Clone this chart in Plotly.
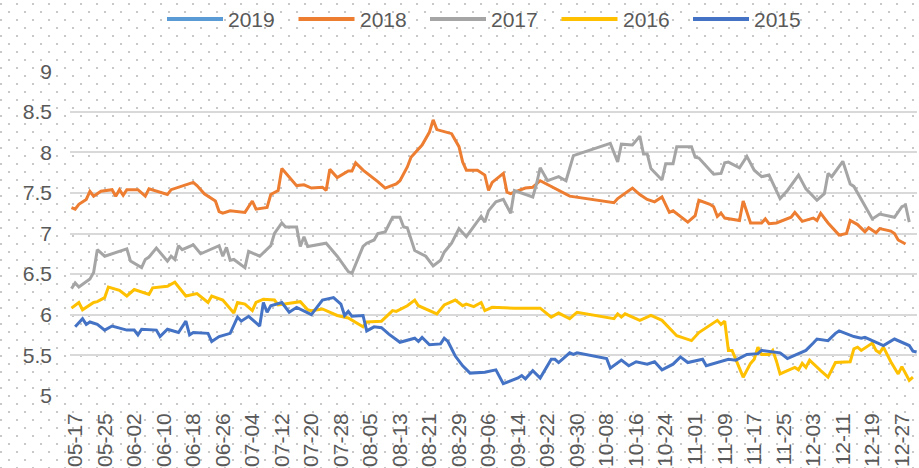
import base64
import struct
import zlib
from datetime import date

import plotly.graph_objects as go

# ---------------- data ----------------
SERIES_NAMES = ["2019", "2018", "2017", "2016", "2015"]
SERIES_COLORS = ["#5B9BD5", "#ED7D31", "#A5A5A5", "#FFC000", "#4472C4"]

TICK_LABELS = ["05-17", "05-25", "06-02", "06-10", "06-18", "06-26", "07-04", "07-12",
               "07-20", "07-28", "08-05", "08-13", "08-21", "08-29", "09-06", "09-14",
               "09-22", "09-30", "10-08", "10-16", "10-24", "11-01", "11-09", "11-17",
               "11-25", "12-03", "12-11", "12-19", "12-27"]

DATES_2019 = []
VALUES_2019 = []

DATES_2018 = [
    "05-16", "05-17", "05-18", "05-20", "05-21", "05-22", "05-24", "05-27", "05-28", "05-29",
    "05-30", "05-31", "06-03", "06-05", "06-06", "06-11", "06-12", "06-18", "06-19", "06-21",
    "06-24", "06-25", "06-26", "06-28", "07-02", "07-04", "07-05", "07-08", "07-09", "07-11",
    "07-12", "07-16", "07-18", "07-20", "07-23", "07-24", "07-25", "07-27", "07-30", "07-31",
    "08-01", "08-03", "08-07", "08-09", "08-12", "08-13", "08-15", "08-16", "08-19", "08-21",
    "08-22", "08-23", "08-27", "08-29", "08-30", "08-31", "09-03", "09-05", "09-06", "09-07",
    "09-10", "09-11", "09-12", "09-13", "09-16", "09-18", "09-20", "09-24", "09-28", "10-10",
    "10-11", "10-15", "10-17", "10-19", "10-21", "10-23", "10-25", "10-26", "10-30", "11-01",
    "11-02", "11-05", "11-06", "11-07", "11-08", "11-09", "11-13", "11-14", "11-16", "11-19",
    "11-20", "11-21", "11-23", "11-27", "11-28", "11-30", "12-03", "12-04", "12-05", "12-07",
    "12-10", "12-12", "12-13", "12-15", "12-17", "12-18", "12-20", "12-21", "12-24", "12-25",
    "12-26", "12-28"]
VALUES_2018 = [
    7.32, 7.30, 7.36, 7.42, 7.52, 7.46, 7.52, 7.54, 7.46, 7.54,
    7.47, 7.54, 7.54, 7.46, 7.55, 7.48, 7.54, 7.63, 7.59, 7.49,
    7.40, 7.27, 7.25, 7.28, 7.26, 7.40, 7.30, 7.32, 7.48, 7.53,
    7.80, 7.59, 7.60, 7.56, 7.57, 7.53, 7.79, 7.69, 7.77, 7.77,
    7.87, 7.78, 7.64, 7.56, 7.61, 7.65, 7.82, 7.94, 8.09, 8.25,
    8.40, 8.28, 8.23, 8.07, 7.88, 7.78, 7.78, 7.72, 7.53, 7.63,
    7.74, 7.51, 7.49, 7.51, 7.56, 7.57, 7.65, 7.56, 7.46, 7.38,
    7.43, 7.56, 7.48, 7.42, 7.39, 7.45, 7.26, 7.28, 7.14, 7.22,
    7.41, 7.36, 7.33, 7.21, 7.25, 7.19, 7.16, 7.40, 7.13, 7.13,
    7.18, 7.12, 7.13, 7.20, 7.26, 7.15, 7.19, 7.16, 7.25, 7.13,
    6.98, 7.00, 7.16, 7.11, 7.02, 7.07, 7.01, 7.06, 7.03, 7.00,
    6.92, 6.87]

DATES_2017 = [
    "05-16", "05-17", "05-18", "05-21", "05-22", "05-23", "05-25", "05-31", "06-01", "06-04",
    "06-05", "06-06", "06-08", "06-11", "06-12", "06-13", "06-14", "06-15", "06-18", "06-20",
    "06-25", "06-26", "06-27", "06-28", "06-29", "07-02", "07-03", "07-06", "07-09", "07-10",
    "07-12", "07-13", "07-16", "07-17", "07-18", "07-19", "07-24", "07-25", "07-27", "07-30",
    "07-31", "08-03", "08-04", "08-06", "08-07", "08-09", "08-11", "08-13", "08-14", "08-15",
    "08-17", "08-20", "08-22", "08-24", "08-25", "08-27", "08-29", "08-31", "09-04", "09-05",
    "09-06", "09-08", "09-10", "09-12", "09-13", "09-18", "09-19", "09-20", "09-22", "09-25",
    "09-27", "09-29", "10-09", "10-11", "10-12", "10-15", "10-17", "10-18", "10-19", "10-20",
    "10-23", "10-24", "10-26", "10-27", "10-31", "11-01", "11-02", "11-06", "11-08", "11-09",
    "11-10", "11-13", "11-15", "11-17", "11-19", "11-21", "11-22", "11-24", "11-26", "11-29",
    "12-01", "12-04", "12-06", "12-07", "12-08", "12-11", "12-13", "12-14", "12-19", "12-21",
    "12-25", "12-27", "12-28", "12-29"]
VALUES_2017 = [
    6.32, 6.39, 6.34, 6.44, 6.52, 6.80, 6.72, 6.81, 6.66, 6.58,
    6.68, 6.71, 6.82, 6.66, 6.72, 6.68, 6.85, 6.80, 6.86, 6.75,
    6.85, 6.72, 6.83, 6.67, 6.68, 6.58, 6.78, 6.72, 6.85, 7.00,
    7.13, 7.08, 7.08, 6.84, 6.96, 6.84, 6.88, 6.83, 6.72, 6.53,
    6.51, 6.84, 6.88, 6.92, 7.00, 7.02, 7.20, 7.20, 7.08, 7.07,
    6.79, 6.72, 6.60, 6.67, 6.77, 6.88, 7.06, 6.96, 7.21, 7.14,
    7.28, 7.39, 7.42, 7.25, 7.53, 7.45, 7.61, 7.81, 7.65, 7.70,
    7.65, 7.96, 8.11, 7.88, 8.10, 8.09, 8.20, 7.98, 7.98, 7.80,
    7.66, 7.86, 7.86, 8.07, 8.07, 7.94, 7.93, 7.73, 7.74, 7.87,
    7.88, 7.81, 7.95, 7.78, 7.70, 7.72, 7.63, 7.43, 7.53, 7.72,
    7.55, 7.41, 7.49, 7.74, 7.70, 7.89, 7.61, 7.58, 7.18, 7.24,
    7.20, 7.33, 7.35, 7.14]

DATES_2016 = [
    "05-16", "05-18", "05-19", "05-22", "05-23", "05-25", "05-26", "05-29", "05-31", "06-02",
    "06-06", "06-07", "06-11", "06-13", "06-16", "06-19", "06-22", "06-23", "06-26", "06-29",
    "06-30", "07-02", "07-04", "07-05", "07-07", "07-10", "07-11", "07-14", "07-17", "07-19",
    "07-20", "07-23", "07-27", "07-30", "08-03", "08-04", "08-08", "08-11", "08-12", "08-15",
    "08-17", "08-18", "08-23", "08-25", "08-28", "08-30", "08-31", "09-02", "09-04", "09-05",
    "09-07", "09-13", "09-20", "09-23", "09-25", "09-28", "09-30", "10-10", "10-11", "10-12",
    "10-13", "10-17", "10-20", "10-23", "10-27", "10-31", "11-02", "11-07", "11-08", "11-09",
    "11-10", "11-11", "11-14", "11-16", "11-17", "11-18", "11-19", "11-21", "11-22", "11-23",
    "11-24", "11-26", "11-28", "11-29", "11-30", "12-01", "12-02", "12-05", "12-07", "12-09",
    "12-13", "12-14", "12-15", "12-16", "12-19", "12-20", "12-21", "12-22", "12-24", "12-26",
    "12-27", "12-29", "12-30"]
VALUES_2016 = [
    6.08, 6.15, 6.06, 6.15, 6.16, 6.21, 6.34, 6.30, 6.23, 6.31,
    6.25, 6.33, 6.35, 6.40, 6.23, 6.26, 6.15, 6.23, 6.18, 6.02,
    6.15, 6.13, 6.05, 6.15, 6.19, 6.18, 6.12, 6.14, 6.16, 6.06,
    6.05, 6.07, 5.99, 5.96, 5.85, 5.91, 5.92, 6.05, 6.04, 6.11,
    6.18, 6.11, 6.01, 6.12, 6.18, 6.11, 6.13, 6.10, 6.15, 6.05,
    6.09, 6.08, 6.08, 5.97, 6.02, 5.95, 6.03, 5.95, 6.01, 5.97,
    6.01, 5.93, 5.99, 5.93, 5.74, 5.68, 5.78, 5.93, 5.88, 5.92,
    5.56, 5.56, 5.23, 5.40, 5.45, 5.60, 5.51, 5.51, 5.56, 5.43,
    5.27, 5.31, 5.35, 5.32, 5.40, 5.35, 5.44, 5.31, 5.23, 5.41,
    5.42, 5.58, 5.60, 5.56, 5.65, 5.56, 5.53, 5.60, 5.42, 5.27,
    5.36, 5.19, 5.23]

DATES_2015 = [
    "05-17", "05-19", "05-20", "05-21", "05-23", "05-25", "05-27", "05-31", "06-02", "06-03",
    "06-04", "06-08", "06-09", "06-11", "06-14", "06-16", "06-17", "06-18", "06-22", "06-23",
    "06-25", "06-28", "06-30", "07-01", "07-03", "07-06", "07-07", "07-08", "07-09", "07-12",
    "07-14", "07-16", "07-20", "07-23", "07-26", "07-28", "07-29", "07-30", "07-31", "08-03",
    "08-04", "08-06", "08-08", "08-10", "08-13", "08-17", "08-18", "08-19", "08-21", "08-24",
    "08-25", "08-26", "08-27", "08-28", "08-30", "09-01", "09-05", "09-08", "09-10", "09-14",
    "09-15", "09-16", "09-18", "09-20", "09-23", "09-24", "09-25", "09-28", "09-29", "09-30",
    "10-08", "10-09", "10-12", "10-14", "10-16", "10-19", "10-21", "10-23", "10-26", "10-28",
    "10-30", "11-03", "11-04", "11-10", "11-12", "11-15", "11-18", "11-19", "11-24", "11-26",
    "11-27", "12-01", "12-03", "12-04", "12-07", "12-09", "12-10", "12-14", "12-16", "12-17",
    "12-22", "12-25", "12-29", "12-30", "12-31"]
VALUES_2015 = [
    5.85, 5.95, 5.88, 5.91, 5.88, 5.81, 5.86, 5.81, 5.81, 5.75,
    5.82, 5.81, 5.73, 5.82, 5.78, 5.92, 5.75, 5.78, 5.77, 5.67,
    5.73, 5.77, 5.97, 5.92, 5.98, 5.86, 6.15, 6.03, 6.11, 6.15,
    6.03, 6.09, 6.00, 6.18, 6.21, 6.13, 5.99, 6.04, 5.98, 5.99,
    5.80, 5.85, 5.84, 5.76, 5.66, 5.71, 5.67, 5.72, 5.63, 5.64,
    5.71, 5.67, 5.58, 5.49, 5.37, 5.28, 5.29, 5.32, 5.15, 5.22,
    5.25, 5.21, 5.31, 5.22, 5.45, 5.45, 5.41, 5.53, 5.51, 5.53,
    5.46, 5.34, 5.44, 5.37, 5.42, 5.39, 5.42, 5.32, 5.39, 5.48,
    5.41, 5.45, 5.37, 5.45, 5.44, 5.51, 5.52, 5.56, 5.53, 5.46,
    5.48, 5.56, 5.65, 5.70, 5.68, 5.77, 5.80, 5.73, 5.71, 5.72,
    5.62, 5.70, 5.62, 5.55, 5.54]

SERIES_DATES = [DATES_2019, DATES_2018, DATES_2017, DATES_2016, DATES_2015]
SERIES_VALUES = [VALUES_2019, VALUES_2018, VALUES_2017, VALUES_2016, VALUES_2015]

# ---------------- layout constants ----------------
W, H = 919, 468
ML, MR, MT, MB = 70, 2, 71, 72
PW, PH = W - ML - MR, H - MT - MB
FONT = "Liberation Sans"
TEXT_COLOR = "#595959"


def day_index(md):
    m, d = (int(p) for p in md.split("-"))
    return (date(2001, m, d) - date(2001, 5, 17)).days


def dot_pattern_png(w, h, color=(200, 200, 200)):
    rows = []
    for y in range(h):
        row = bytearray([0])
        for x in range(w):
            on = (x % 16 in (0, 1) and y % 16 in (3, 4)) or (x % 16 in (8, 9) and y % 16 in (11, 12))
            if on:
                row += bytes((color[0], color[1], color[2], 255))
            else:
                row += b"\x00\x00\x00\x00"
        rows.append(bytes(row))
    raw = b"".join(rows)

    def chunk(tag, data):
        c = struct.pack(">I", len(data)) + tag + data
        return c + struct.pack(">I", zlib.crc32(tag + data) & 0xFFFFFFFF)

    png = b"\x89PNG\r\n\x1a\n"
    png += chunk(b"IHDR", struct.pack(">IIBBBBB", w, h, 8, 6, 0, 0, 0))
    png += chunk(b"IDAT", zlib.compress(raw, 9))
    png += chunk(b"IEND", b"")
    return "data:image/png;base64," + base64.b64encode(png).decode()


fig = go.Figure()
for name, color, dts, vals in zip(SERIES_NAMES, SERIES_COLORS, SERIES_DATES, SERIES_VALUES):
    fig.add_trace(go.Scatter(
        x=[day_index(d) for d in dts], y=vals, name=name, mode="lines",
        line=dict(color=color, width=3), showlegend=False,
        hovertemplate="%{y}<extra>" + name + "</extra>",
    ))

# custom legend (long line symbols like the original)
shapes = []
annotations = []
for i, (name, color) in enumerate(zip(SERIES_NAMES, SERIES_COLORS)):
    x0 = 167 + i * 131.5
    yl = 1 + (MT - 19) / PH
    shapes.append(dict(type="line", xref="paper", yref="paper",
                       x0=(x0 - ML) / PW, x1=(x0 + 56 - ML) / PW, y0=yl, y1=yl,
                       line=dict(color=color, width=4)))
    annotations.append(dict(xref="paper", yref="paper", x=(x0 + 59 - ML) / PW, y=yl,
                            text=name, showarrow=False, xanchor="left", yanchor="middle",
                            font=dict(family=FONT, size=21, color=TEXT_COLOR)))

fig.update_layout(
    width=W, height=H,
    margin=dict(l=ML, r=MR, t=MT, b=MB, pad=0, autoexpand=False),
    paper_bgcolor="white", plot_bgcolor="rgba(0,0,0,0)",
    font=dict(family=FONT, size=21, color=TEXT_COLOR),
    shapes=shapes, annotations=annotations,
    images=[dict(source=dot_pattern_png(W, H), xref="paper", yref="paper",
                 x=-ML / PW, y=1 + MT / PH, sizex=W / PW, sizey=H / PH,
                 xanchor="left", yanchor="top", sizing="stretch", layer="below")],
    xaxis=dict(
        range=[-1.4, 228.1], tickmode="array",
        tickvals=[day_index(t) for t in TICK_LABELS], ticktext=TICK_LABELS,
        tickangle=-90, showgrid=False, zeroline=False, showline=False, ticks="",
        ticklabelstandoff=12, automargin=False,
        tickfont=dict(family=FONT, size=21, color=TEXT_COLOR),
    ),
    yaxis=dict(
        range=[4.998, 9.002], tickmode="linear", tick0=5, dtick=0.5,
        showgrid=True, gridcolor="#D9D9D9", gridwidth=1.6, zeroline=False,
        showline=False, ticks="", ticklabelstandoff=17, automargin=False,
        tickfont=dict(family=FONT, size=21, color=TEXT_COLOR),
    ),
)

fig.write_html(
    "out.html",
    config={"displayModeBar": False},
    post_script="document.body.style.margin='0';document.body.style.padding='0';"
                "document.body.style.overflow='hidden';",
)
